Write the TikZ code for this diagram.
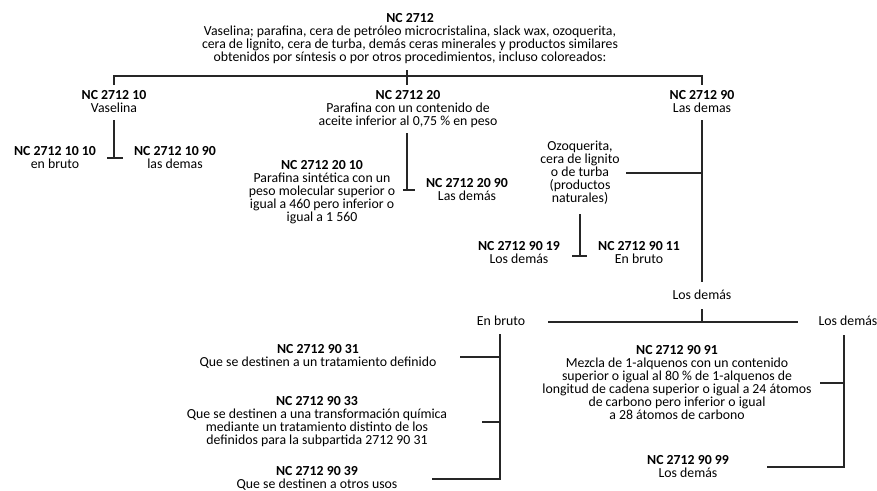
\documentclass[tikz,border=0pt]{standalone}
\usepackage{fontspec}
\setmainfont{Carlito}
\begin{document}
\begin{tikzpicture}[x=1pt,y=-1pt,
  lbl/.style={align=center,inner sep=0pt,font=\fontsize{13.8}{13}\selectfont},
  wire/.style={line width=1.3pt,draw=black!85}]
\useasboundingbox (0,0) rectangle (877,490);

% ---- heading 2712
\node[lbl] (root) at (410,39) {\textbf{NC 2712}\\%
Vaselina; parafina, cera de petróleo microcristalina, slack wax, ozoquerita,\\%
cera de lignito, cera de turba, demás ceras minerales y productos similares\\%
obtenidos por síntesis o por otros procedimientos, incluso coloreados:};

% ---- first level
\node[lbl] (n10) at (114,102) {\textbf{NC 2712 10}\\Vaselina};
\node[lbl] (n20) at (408,109) {\textbf{NC 2712 20}\\Parafina con un contenido de\\aceite inferior al 0,75 \% en peso};
\node[lbl] (n90) at (702,102) {\textbf{NC 2712 90}\\Las demas};

% ---- 2712 10
\node[lbl] (n1010) at (55,158) {\textbf{NC 2712 10 10}\\en bruto};
\node[lbl] (n1090) at (175,158) {\textbf{NC 2712 10 90}\\las demas};

% ---- 2712 20
\node[lbl] (n2010) at (322,192) {\textbf{NC 2712 20 10}\\Parafina sintética con un\\peso molecular superior o\\igual a 460 pero inferior o\\igual a 1 560};
\node[lbl] (n2090) at (467,190) {\textbf{NC 2712 20 90}\\Las demás};

% ---- 2712 90
\node[lbl] (ozo) at (580,173) {Ozoquerita,\\cera de lignito\\o de turba\\(productos\\naturales)};
\node[lbl] (n9019) at (519,253) {\textbf{NC 2712 90 19}\\Los demás};
\node[lbl] (n9011) at (639,253) {\textbf{NC 2712 90 11}\\En bruto};
\node[lbl] (otros) at (702,295) {Los demás};
\node[lbl] (bruto) at (501,321) {En bruto};
\node[lbl] (demas) at (848,321) {Los demás};

\node[lbl] (n9031) at (318,356) {\textbf{NC 2712 90 31}\\Que se destinen a un tratamiento definido};
\node[lbl] (n9033) at (317,422) {\textbf{NC 2712 90 33}\\Que se destinen a una transformación química\\mediante un tratamiento distinto de los\\definidos para la subpartida 2712 90 31};
\node[lbl] (n9039) at (317,478) {\textbf{NC 2712 90 39}\\Que se destinen a otros usos};

\node[lbl] (n9091) at (677,383) {\textbf{NC 2712 90 91}\\Mezcla de 1-alquenos con un contenido\\superior o igual al 80 \% de 1-alquenos de\\longitud de cadena superior o igual a 24 átomos\\de carbono pero inferior o igual\\a 28 átomos de carbono};
\node[lbl] (n9099) at (688,467) {\textbf{NC 2712 90 99}\\Los demás};

% ---- connector anchor points
\coordinate (rootT) at (407,70);  \coordinate (rootB) at (407,85);
\coordinate (barL) at (114,76);   \coordinate (barR) at (702,76);
\coordinate (in10) at (114,85);   \coordinate (in90) at (702,85);

\coordinate (s10) at (114,120);   \coordinate (f10) at (114,158);
\coordinate (f10L) at (107,158);  \coordinate (f10R) at (123,158);

\coordinate (s20) at (407,133);   \coordinate (f20) at (407,190);
\coordinate (f20L) at (403,190);  \coordinate (f20R) at (415,190);

\coordinate (s90) at (702,120);   \coordinate (e90) at (702,282);
\coordinate (j90) at (702,173);   \coordinate (jozo) at (626,173);

\coordinate (sozo) at (580,214);  \coordinate (fozo) at (580,256);
\coordinate (fozoL) at (572,256); \coordinate (fozoR) at (587,256);

\coordinate (sot) at (702,309);   \coordinate (jot) at (702,322);
\coordinate (jotL) at (548,322);  \coordinate (jotR) at (798,322);

\coordinate (sbr) at (500,334);   \coordinate (ebr) at (500,479);
\coordinate (b31) at (460,357);   \coordinate (k31) at (500,357);
\coordinate (b33) at (482,422);   \coordinate (k33) at (500,422);
\coordinate (b39) at (432,479);

\coordinate (sdm) at (844,335);   \coordinate (edm) at (844,467);
\coordinate (b91) at (820,383);   \coordinate (k91) at (844,383);
\coordinate (b99) at (767,467);

% ---- connectors
\draw[wire] (rootT) -- (rootB);
\draw[wire] (in10) -- (barL) -- (barR) -- (in90);

\draw[wire] (s10) -- (f10);
\draw[wire] (f10L) -- (f10R);

\draw[wire] (s20) -- (f20);
\draw[wire] (f20L) -- (f20R);

\draw[wire] (s90) -- (e90);
\draw[wire] (jozo) -- (j90);

\draw[wire] (sozo) -- (fozo);
\draw[wire] (fozoL) -- (fozoR);

\draw[wire] (sot) -- (jot);
\draw[wire] (jotL) -- (jotR);

\draw[wire] (sbr) -- (ebr) -- (b39);
\draw[wire] (b31) -- (k31);
\draw[wire] (b33) -- (k33);

\draw[wire] (sdm) -- (edm) -- (b99);
\draw[wire] (b91) -- (k91);
\end{tikzpicture}
\end{document}
